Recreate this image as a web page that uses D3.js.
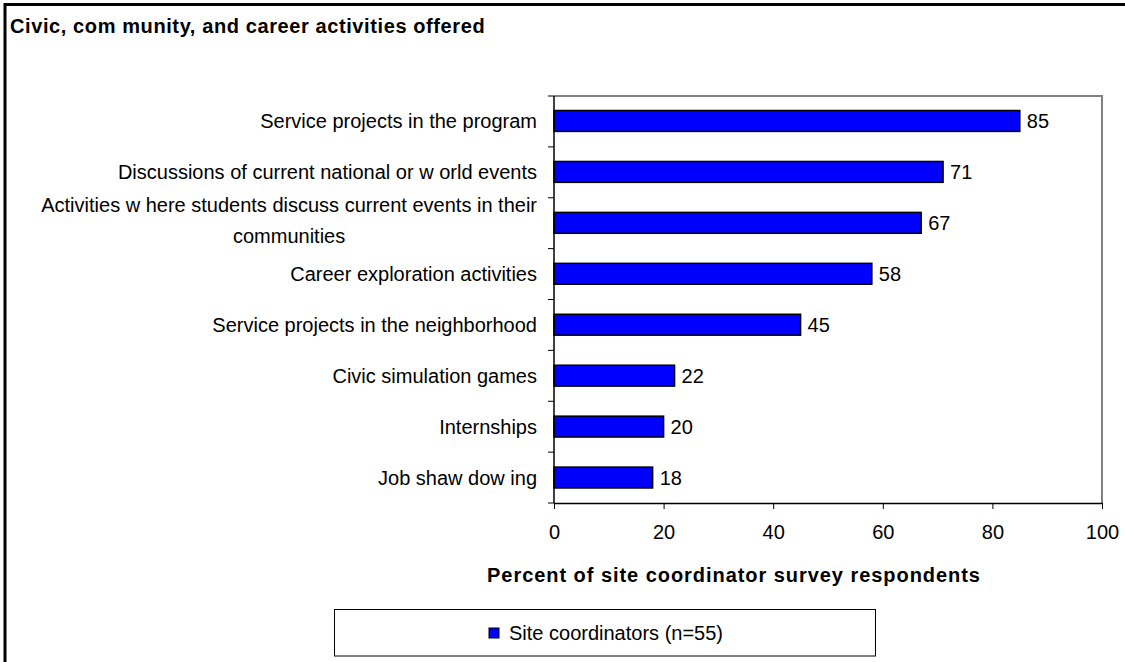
<!DOCTYPE html>
<html>
<head>
<meta charset="utf-8">
<script src="https://cdn.jsdelivr.net/npm/d3@7"></script>
<style>
  html, body { margin: 0; padding: 0; background: #fff; }
  svg { display: block; }
  text { font-family: Arial, "Liberation Sans", sans-serif; fill: #000; }
</style>
</head>
<body>
<svg id="chart" width="1125" height="662"></svg>
<script>
// Activities offered, share of site coordinators reporting each one
const categories = [
  ["Service projects in the program"],
  ["Discussions of current national or w orld events"],
  ["Activities w here students discuss current events in their", "communities"],
  ["Career exploration activities"],
  ["Service projects in the neighborhood"],
  ["Civic simulation games"],
  ["Internships"],
  ["Job shaw dow ing"]
];
const values = [85, 71, 67, 58, 45, 22, 20, 18];
const xTicks = [0, 20, 40, 60, 80, 100];
const seriesName = "Site coordinators (n=55)";
const titleText = "Civic, com munity, and career activities offered";
const axisTitle = "Percent of site coordinator survey respondents";

const svg = d3.select("#chart");

// frame around the whole chart (top and left edges visible)
svg.append("path")
  .attr("d", "M5,662 V4.5 H1125")
  .attr("fill", "none").attr("stroke", "#000").attr("stroke-width", 3);

svg.append("text")
  .attr("x", 10).attr("y", 33)
  .attr("font-size", 20).attr("font-weight", "bold")
  .attr("letter-spacing", 0.6)
  .text(titleText);

const plot = { left: 554, right: 1102, top: 96, bottom: 503 };

const x = d3.scaleLinear().domain([0, 100]).range([plot.left, plot.right]);
const y = d3.scaleBand()
  .domain(d3.range(categories.length))
  .range([plot.top - 0.5, plot.bottom])
  .paddingInner(0.59).paddingOuter(0.295);

// plot area border: grey on top and right
svg.append("path")
  .attr("d", `M${plot.left},${plot.top} H${plot.right} V${plot.bottom}`)
  .attr("fill", "none").attr("stroke", "#808080").attr("stroke-width", 2);

// bars
svg.append("g").selectAll("rect")
  .data(values)
  .join("rect")
  .attr("x", x(0))
  .attr("y", (d, i) => y(i))
  .attr("width", d => x(d) - x(0))
  .attr("height", y.bandwidth())
  .attr("fill", "#0000FF")
  .attr("stroke", "#000")
  .attr("stroke-width", 1.5);

// value labels
svg.append("g").selectAll("text")
  .data(values)
  .join("text")
  .attr("x", d => x(d) + 7)
  .attr("y", (d, i) => y(i) + y.bandwidth() / 2 + 7.5)
  .attr("font-size", 20)
  .text(d => d);

// x axis
const xAxis = svg.append("g")
  .attr("transform", `translate(0,${plot.bottom})`)
  .call(d3.axisBottom(x).tickValues(xTicks).tickSize(6).tickPadding(16).tickSizeOuter(0));
xAxis.select(".domain").attr("stroke", "#000").attr("stroke-width", 1.5);
xAxis.selectAll(".tick line").attr("stroke", "#000");
xAxis.selectAll(".tick text")
  .attr("font-size", 20)
  .attr("font-family", 'Arial, "Liberation Sans", sans-serif')
  .attr("fill", "#000");

// y axis line with category separator ticks
svg.append("line")
  .attr("x1", plot.left).attr("x2", plot.left)
  .attr("y1", plot.top).attr("y2", plot.bottom)
  .attr("stroke", "#000").attr("stroke-width", 1.5);
const step = (plot.bottom - plot.top) / categories.length;
svg.append("g").selectAll("line")
  .data(d3.range(categories.length + 1))
  .join("line")
  .attr("x1", plot.left - 6).attr("x2", plot.left)
  .attr("y1", i => plot.top + i * step)
  .attr("y2", i => plot.top + i * step)
  .attr("stroke", "#000").attr("stroke-width", 1);

// category labels, lines centered on each other and right-aligned as a block
const labelRight = 537;
const lineH = 31;
const labels = svg.append("g");
categories.forEach((lines, i) => {
  const cy = y(i) + y.bandwidth() / 2;
  const t = labels.append("text").attr("font-size", 20).attr("text-anchor", "middle");
  const off = lines.length > 1 ? 4.5 : 7.5;
  const tspans = lines.map((ln, j) =>
    t.append("tspan")
      .attr("y", cy + off + (j - (lines.length - 1) / 2) * lineH)
      .text(ln));
  const w = d3.max(tspans, s => s.node().getComputedTextLength());
  tspans.forEach(s => s.attr("x", labelRight - w / 2));
});

// axis title
svg.append("text")
  .attr("x", 734)
  .attr("y", 582)
  .attr("text-anchor", "middle")
  .attr("font-size", 20).attr("font-weight", "bold")
  .attr("letter-spacing", 0.95)
  .text(axisTitle);

// legend
const legend = svg.append("g");
legend.append("rect")
  .attr("x", 334.5).attr("y", 609.5).attr("width", 541).attr("height", 46.5)
  .attr("fill", "#fff").attr("stroke", "#000").attr("stroke-width", 1);
legend.append("rect")
  .attr("x", 489).attr("y", 628).attr("width", 10).attr("height", 10)
  .attr("fill", "#0000FF").attr("stroke", "#000").attr("stroke-width", 1);
legend.append("text")
  .attr("x", 509).attr("y", 640)
  .attr("font-size", 20)
  .text(seriesName);
</script>
</body>
</html>
